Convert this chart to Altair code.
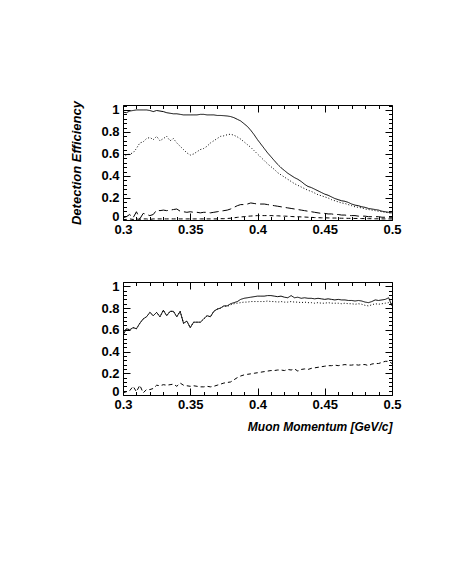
import altair as alt
import pandas as pd

# momentum bin centres (GeV/c)
momentum = [round(0.3 + 0.0025 * i, 4) for i in range(81)]

# ---- upper panel ----
top_solid = [0.98, 0.975, 0.99, 0.995, 1.0, 1.0, 1.0, 1.0, 0.995, 0.985,
             0.995, 0.99, 0.985, 0.975, 0.97, 0.965, 0.965, 0.96, 0.955, 0.955,
             0.955, 0.955, 0.955, 0.96, 0.96, 0.955, 0.955, 0.955, 0.95, 0.95,
             0.948, 0.945, 0.94, 0.93, 0.915, 0.9, 0.875, 0.85, 0.815, 0.775,
             0.73, 0.69, 0.65, 0.61, 0.575, 0.54, 0.505, 0.475, 0.45, 0.425,
             0.405, 0.385, 0.37, 0.35, 0.325, 0.305, 0.295, 0.28, 0.265, 0.25,
             0.235, 0.225, 0.21, 0.195, 0.185, 0.175, 0.17, 0.16, 0.145, 0.135,
             0.13, 0.12, 0.115, 0.105, 0.1, 0.095, 0.09, 0.08, 0.075, 0.07,
             0.065]
top_dotted = [0.57, 0.59, 0.60, 0.61, 0.65, 0.70, 0.71, 0.74, 0.75, 0.73,
              0.76, 0.72, 0.74, 0.76, 0.72, 0.74, 0.70, 0.67, 0.64, 0.61,
              0.59, 0.60, 0.62, 0.64, 0.65, 0.67, 0.70, 0.72, 0.74, 0.76,
              0.765, 0.775, 0.78, 0.77, 0.755, 0.735, 0.71, 0.685, 0.66, 0.63,
              0.60, 0.57, 0.54, 0.51, 0.485, 0.46, 0.43, 0.41, 0.39, 0.37,
              0.35, 0.33, 0.315, 0.30, 0.285, 0.27, 0.26, 0.245, 0.23, 0.22,
              0.21, 0.20, 0.185, 0.175, 0.165, 0.155, 0.15, 0.14, 0.13, 0.12,
              0.115, 0.11, 0.10, 0.095, 0.09, 0.085, 0.08, 0.075, 0.07, 0.065,
              0.06]
top_longdash = [0.02, 0.03, 0.05, 0.02, 0.075, 0.01, 0.06, 0.05, 0.04, 0.05,
                0.09, 0.085, 0.09, 0.085, 0.09, 0.095, 0.10, 0.08, 0.075, 0.07,
                0.075, 0.07, 0.07, 0.065, 0.07, 0.07, 0.065, 0.07, 0.075, 0.08,
                0.085, 0.09, 0.10, 0.115, 0.13, 0.14, 0.14, 0.145, 0.155, 0.15,
                0.145, 0.145, 0.145, 0.14, 0.135, 0.13, 0.125, 0.12, 0.115, 0.11,
                0.105, 0.10, 0.095, 0.09, 0.085, 0.08, 0.075, 0.07, 0.065, 0.06,
                0.06, 0.055, 0.055, 0.05, 0.05, 0.045, 0.045, 0.04, 0.04, 0.04,
                0.035, 0.035, 0.035, 0.03, 0.03, 0.03, 0.03, 0.025, 0.025, 0.025,
                0.025]
top_shortdash = [0.005, 0.005, 0.01, 0.005, 0.01, 0.005, 0.01, 0.01, 0.005, 0.01,
                 0.01, 0.01, 0.01, 0.01, 0.01, 0.01, 0.01, 0.01, 0.01, 0.01,
                 0.01, 0.01, 0.01, 0.01, 0.01, 0.01, 0.01, 0.01, 0.01, 0.012,
                 0.012, 0.014, 0.016, 0.02, 0.024, 0.028, 0.03, 0.034, 0.036, 0.038,
                 0.04, 0.04, 0.04, 0.04, 0.04, 0.038, 0.038, 0.036, 0.035, 0.034,
                 0.032, 0.03, 0.03, 0.028, 0.027, 0.025, 0.024, 0.022, 0.021, 0.02,
                 0.02, 0.019, 0.018, 0.018, 0.017, 0.016, 0.016, 0.015, 0.015, 0.014,
                 0.014, 0.013, 0.013, 0.012, 0.012, 0.011, 0.011, 0.01, 0.01, 0.01,
                 0.01]

# ---- lower panel ----
bot_solid = [0.55, 0.61, 0.60, 0.62, 0.61, 0.66, 0.70, 0.72, 0.76, 0.73,
             0.76, 0.72, 0.78, 0.73, 0.77, 0.77, 0.72, 0.77, 0.66, 0.68,
             0.62, 0.67, 0.67, 0.67, 0.70, 0.73, 0.72, 0.77, 0.79, 0.80,
             0.82, 0.82, 0.84, 0.85, 0.86, 0.88, 0.89, 0.895, 0.90, 0.905,
             0.91, 0.91, 0.91, 0.915, 0.915, 0.91, 0.905, 0.91, 0.90, 0.895,
             0.915, 0.895, 0.90, 0.89, 0.895, 0.89, 0.89, 0.885, 0.89, 0.885,
             0.88, 0.885, 0.88, 0.875, 0.88, 0.875, 0.875, 0.87, 0.87, 0.865,
             0.87, 0.865, 0.855, 0.85, 0.86, 0.875, 0.87, 0.875, 0.88, 0.895,
             0.82]
bot_dotted = [0.55, 0.61, 0.60, 0.62, 0.61, 0.66, 0.70, 0.72, 0.76, 0.73,
              0.76, 0.72, 0.78, 0.73, 0.77, 0.77, 0.72, 0.77, 0.66, 0.68,
              0.62, 0.67, 0.67, 0.67, 0.70, 0.73, 0.72, 0.77, 0.79, 0.80,
              0.82, 0.815, 0.83, 0.84, 0.845, 0.85, 0.855, 0.855, 0.86, 0.86,
              0.86, 0.86, 0.86, 0.865, 0.86, 0.86, 0.855, 0.86, 0.855, 0.855,
              0.86, 0.855, 0.855, 0.85, 0.855, 0.85, 0.85, 0.845, 0.85, 0.845,
              0.845, 0.85, 0.845, 0.845, 0.845, 0.84, 0.845, 0.84, 0.84, 0.835,
              0.84, 0.835, 0.825, 0.82, 0.83, 0.84, 0.835, 0.84, 0.845, 0.85,
              0.84]
bot_dashed = [0.02, 0.03, 0.04, 0.08, 0.03, 0.09, 0.02, 0.05, 0.05, 0.06,
              0.09, 0.085, 0.095, 0.09, 0.095, 0.10, 0.08, 0.11, 0.09, 0.085,
              0.08, 0.085, 0.08, 0.075, 0.075, 0.08, 0.075, 0.08, 0.09, 0.10,
              0.11, 0.115, 0.12, 0.14, 0.16, 0.175, 0.185, 0.19, 0.195, 0.20,
              0.205, 0.21, 0.215, 0.22, 0.225, 0.225, 0.23, 0.23, 0.225, 0.235,
              0.23, 0.24, 0.22, 0.235, 0.24, 0.235, 0.245, 0.25, 0.255, 0.26,
              0.265, 0.27, 0.27, 0.275, 0.27, 0.275, 0.28, 0.275, 0.275, 0.28,
              0.275, 0.28, 0.28, 0.27, 0.285, 0.29, 0.29, 0.30, 0.31, 0.31,
              0.29]

x_ticks = [round(0.3 + 0.01 * i, 2) for i in range(21)]
y_ticks = [round(0.04 * i, 2) for i in range(27)]

FONT = "Liberation Sans"
X_MAJOR = "abs(datum.value*20 - round(datum.value*20)) < 1e-6"
Y_MAJOR = "abs(datum.value*5 - round(datum.value*5)) < 1e-6"

styles = ["solid", "dotted", "longdash", "shortdash"]
dashes = [[1, 0], [1, 2], [9, 4], [4, 3]]


def make_df(series):
    rows = []
    for name, vals in series:
        for x, y in zip(momentum, vals):
            rows.append({"p": x, "eff": y, "s": name})
    return pd.DataFrame(rows)


def xaxis(orient, labels, title=None):
    kw = dict(orient=orient, values=x_ticks,
              tickSize=alt.ExprRef(f"{X_MAJOR} ? -7 : -3.5"),
              tickColor="black", tickWidth=1, domain=False, grid=False,
              labels=labels, labelOverlap=False, labelFlush=False,
              labelPadding=10,
              labelExpr=f"{X_MAJOR} ? format(datum.value, '~g') : ''",
              labelFont=FONT, labelFontSize=13, labelFontWeight="bold",
              labelColor="black", title=title)
    if title:
        kw.update(titleFont=FONT, titleFontSize=12, titleFontWeight="bold",
                  titleFontStyle="italic", titleColor="black",
                  titleAnchor="end", titlePadding=7)
    return alt.Axis(**kw)


def yaxis(orient, labels, title=None):
    kw = dict(orient=orient, values=y_ticks,
              tickSize=alt.ExprRef(f"{Y_MAJOR} ? -7 : -3.5"),
              tickColor="black", tickWidth=1, domain=False, grid=False,
              labels=labels, labelOverlap=False, labelFlush=False,
              labelPadding=11,
              labelOffset=alt.ExprRef("datum.value < 0.01 ? -4 : 0"),
              labelExpr=f"{Y_MAJOR} ? format(datum.value, '~g') : ''",
              labelFont=FONT, labelFontSize=13, labelFontWeight="bold",
              labelColor="black", title=title)
    if title:
        kw.update(titleFont=FONT, titleFontSize=13, titleFontWeight="bold",
                  titleFontStyle="italic", titleColor="black",
                  titlePadding=17)
    return alt.Axis(**kw)


def panel(df, ymax, height, ytitle=None, xtitle=None):
    xs = alt.Scale(domain=[0.3, 0.5], nice=False, zero=False)
    ys = alt.Scale(domain=[0, ymax], nice=False)
    dash = alt.StrokeDash("s:N", scale=alt.Scale(domain=styles, range=dashes),
                          legend=None)
    lines = alt.Chart(df).mark_line(color="black", strokeWidth=1, clip=True).encode(
        x=alt.X("p:Q", scale=xs, axis=xaxis("bottom", True, xtitle)),
        y=alt.Y("eff:Q", scale=ys, axis=yaxis("left", True, ytitle)),
        strokeDash=dash,
        detail="s:N",
    )
    mirror = alt.Chart(df).mark_line(opacity=0).encode(
        x=alt.X("p:Q", scale=xs, axis=xaxis("top", False)),
        y=alt.Y("eff:Q", scale=ys, axis=yaxis("right", False)),
        detail="s:N",
    )
    return alt.layer(lines, mirror).resolve_axis(
        x="independent", y="independent").properties(width=269, height=height)


top_df = make_df([("solid", top_solid), ("dotted", top_dotted),
                  ("longdash", top_longdash), ("shortdash", top_shortdash)])
bot_df = make_df([("solid", bot_solid), ("dotted", bot_dotted),
                  ("shortdash", bot_dashed)])

top = panel(top_df, 1.045, 115, ytitle="Detection Efficiency")
bottom = panel(bot_df, 1.04, 113, xtitle="Muon Momentum [GeV/c]")

chart = alt.vconcat(top, bottom, spacing=35).properties(
    padding={"left": 62, "top": 91, "right": 5, "bottom": 5},
    background="white",
).configure_view(stroke="black", strokeWidth=1)

chart.save("out.html", embed_options={"renderer": "svg", "actions": False})
